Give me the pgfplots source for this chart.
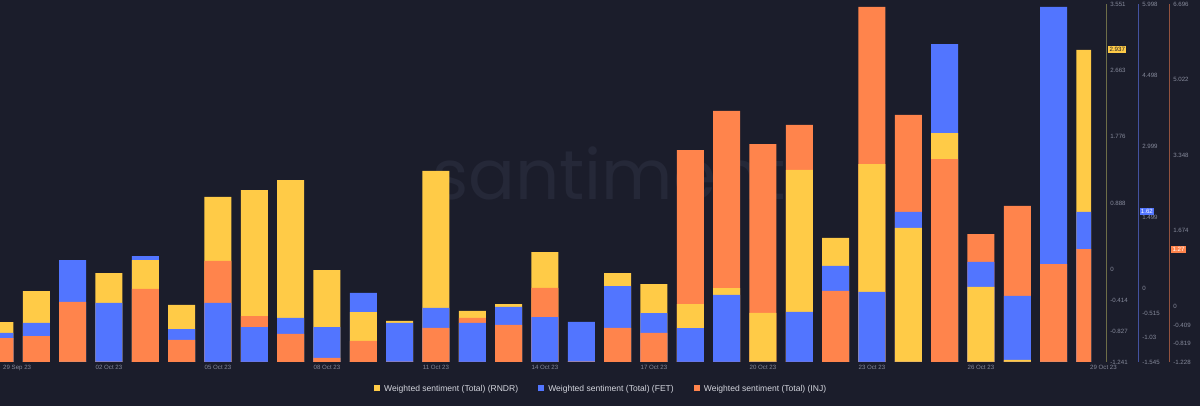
\documentclass[border=0pt]{standalone}
\usepackage{pgfplots}
\pgfplotsset{compat=1.18}
\usepackage{pgfplotstable}
\usepackage{fontspec}
\setmainfont{Liberation Sans}
\newfontfamily\wmfont{Poppins}

\definecolor{bg}{HTML}{1B1D2B}
\definecolor{cR}{HTML}{FFCB47}
\definecolor{cF}{HTML}{5275FF}
\definecolor{cI}{HTML}{FF844C}
\definecolor{ticktxt}{HTML}{868A9B}
\definecolor{legtxt}{HTML}{D4D6DE}
\definecolor{lineR}{HTML}{6E6E48}
\definecolor{lineF}{HTML}{4352A0}
\definecolor{lineI}{HTML}{93533F}
\definecolor{wm}{HTML}{252838}

% weighted sentiment per day, 0 = 29 Sep 23 ... 30 = 29 Oct 23
\pgfplotstableread{
d R F I
0 -0.706 -0.934 -0.697
1 -0.291 -0.723 -0.653
2 -1.241 0.604 0.100
3 -0.050 -0.302 -1.228
4 0.124 0.688 0.388
5 -0.478 -0.850 -0.741
6 0.968 -0.302 1.008
7 1.061 -0.808 -0.210
8 1.195 -0.618 -0.608
9 -0.010 -0.808 -1.139
10 -0.572 -0.091 -0.763
11 -0.692 -0.723 -1.228
12 1.316 -0.407 -0.475
13 -0.558 -0.723 -0.254
14 -0.465 -0.386 -0.409
15 0.231 -0.597 0.410
16 -1.241 -0.702 -1.228
17 -0.050 0.056 -0.475
18 -0.197 -0.513 -0.586
19 -0.465 -0.829 3.464
20 -0.251 -0.133 4.328
21 -0.585 -1.545 3.597
22 1.329 -0.491 4.018
23 0.419 0.478 0.344
24 1.409 -0.070 6.630
25 0.553 1.616 4.239
26 1.824 5.155 3.265
27 -0.237 0.562 1.605
28 -1.214 -0.154 2.225
29 -1.241 5.935 0.941
30 2.937 1.620 1.270
}\sentiment

% each series on its own scale, as a share of the plot height
\pgfplotstablecreatecol[expr={(\thisrow{R}+1.241)/4.792}]{hR}\sentiment
\pgfplotstablecreatecol[expr={(\thisrow{F}+1.545)/7.543}]{hF}\sentiment
\pgfplotstablecreatecol[expr={(\thisrow{I}+1.228)/7.924}]{hI}\sentiment

\def\mx{max(max(\thisrow{hR},\thisrow{hF}),\thisrow{hI})}
\def\mn{min(min(\thisrow{hR},\thisrow{hF}),\thisrow{hI})}

\newcommand{\legsq}[1]{\textcolor{#1}{\rule[0.2pt]{4.6pt}{4.6pt}}\hspace{3pt}}

\pgfplotsset{
  sbar/.style={ybar, bar width=0.743, /pgf/bar shift=0pt, draw=none, fill=#1, forget plot},
  raxis/.style={
    scale only axis, height=268.5pt, at={(0pt,33pt)}, anchor=south west,
    xmin=0, xmax=1, ymin=#1,
    axis x line=none, axis y line*=right,
    major tick length=0pt, clip=false,
    yticklabel style={anchor=west, inner sep=0pt, xshift=3pt,
      font=\fontsize{4.6}{5}\selectfont, text=ticktxt},
  },
}

\begin{document}
\begin{tikzpicture}
\useasboundingbox (0,0) rectangle (900pt,304.5pt);
\fill[bg] (0,0) rectangle (900pt,304.5pt);
\node[anchor=base west, text=wm, font=\wmfont\fontsize{52}{52}\selectfont, inner sep=0pt]
  at (324pt,155pt) {santiment};

\begin{axis}[
  scale only axis, width=818.25pt, height=268.5pt,
  at={(0pt,33pt)}, anchor=south west,
  xmin=0, xmax=30.03, ymin=0, ymax=1,
  axis line style={draw=none}, major tick length=0pt,
  ytick=\empty,
  xtick={3,6,...,27},
  xticklabels={02 Oct 23,05 Oct 23,08 Oct 23,11 Oct 23,14 Oct 23,17 Oct 23,20 Oct 23,23 Oct 23,26 Oct 23},
  xticklabel style={font=\fontsize{4.6}{5}\selectfont, text=ticktxt, inner sep=0pt, yshift=-2pt},
  clip mode=individual,
]
% tallest bar of each day at the back
\addplot[sbar=cR] table[x=d, y expr={ifthenelse(\thisrow{hR}==\mx,\thisrow{hR},0)}]{\sentiment};
\addplot[sbar=cF] table[x=d, y expr={ifthenelse(\thisrow{hF}==\mx,\thisrow{hF},0)}]{\sentiment};
\addplot[sbar=cI] table[x=d, y expr={ifthenelse(\thisrow{hI}==\mx,\thisrow{hI},0)}]{\sentiment};
% middle
\addplot[sbar=cR] table[x=d, y expr={ifthenelse(\thisrow{hR}<\mx && \thisrow{hR}>\mn,\thisrow{hR},0)}]{\sentiment};
\addplot[sbar=cF] table[x=d, y expr={ifthenelse(\thisrow{hF}<\mx && \thisrow{hF}>\mn,\thisrow{hF},0)}]{\sentiment};
\addplot[sbar=cI] table[x=d, y expr={ifthenelse(\thisrow{hI}<\mx && \thisrow{hI}>\mn,\thisrow{hI},0)}]{\sentiment};
% shortest in front
\addplot[sbar=cR] table[x=d, y expr={ifthenelse(\thisrow{hR}==\mn,\thisrow{hR},0)}]{\sentiment};
\addplot[sbar=cF] table[x=d, y expr={ifthenelse(\thisrow{hF}==\mn,\thisrow{hF},0)}]{\sentiment};
\addplot[sbar=cI] table[x=d, y expr={ifthenelse(\thisrow{hI}==\mn,\thisrow{hI},0)}]{\sentiment};

\node[anchor=north west, font=\fontsize{4.6}{5}\selectfont, text=ticktxt, inner sep=0pt]
  at ([yshift=-2pt]axis cs:0.08,0) {29 Sep 23};
\node[anchor=north west, font=\fontsize{4.6}{5}\selectfont, text=ticktxt, inner sep=0pt]
  at ([yshift=-2pt]axis cs:30,0) {29 Oct 23};

% legend
\node[anchor=center, inner sep=0pt, text=legtxt, font=\fontsize{6.4}{7}\selectfont]
  at (rel axis cs:0.55,-0.076)
  {\legsq{cR}Weighted sentiment (Total) (RNDR)\hspace{15pt}%
   \legsq{cF}Weighted sentiment (Total) (FET)\hspace{15pt}%
   \legsq{cI}Weighted sentiment (Total) (INJ)};
\end{axis}

% RNDR scale
\begin{axis}[raxis=-1.241, width=829.5pt, ymax=3.551,
  y axis line style={lineR},
  ytick={-1.241,-0.827,-0.414,0,0.888,1.776,2.663,3.551},
  yticklabels={-1.241,-0.827,-0.414,0,0.888,1.776,2.663,3.551}]
\node[anchor=west, fill=cR, text=bg, inner sep=1pt, xshift=1.5pt,
  font=\fontsize{4.6}{5}\selectfont] at (axis cs:1,2.937) {2.937};
\end{axis}

% FET scale
\begin{axis}[raxis=-1.545, width=853.5pt, ymax=5.998,
  y axis line style={lineF},
  ytick={-1.545,-1.03,-0.515,0,1.499,2.999,4.498,5.998},
  yticklabels={-1.545,-1.03,-0.515,0,1.499,2.999,4.498,5.998}]
\node[anchor=west, fill=cF, text=white, inner sep=1pt, xshift=1pt,
  font=\fontsize{4.6}{5}\selectfont] at (axis cs:1,1.62) {1.62};
\end{axis}

% INJ scale
\begin{axis}[raxis=-1.228, width=876.75pt, ymax=6.696,
  y axis line style={lineI},
  ytick={-1.228,-0.819,-0.409,0,1.674,3.348,5.022,6.696},
  yticklabels={-1.228,-0.819,-0.409,0,1.674,3.348,5.022,6.696}]
\node[anchor=west, fill=cI, text=white, inner sep=1pt, xshift=1.5pt,
  font=\fontsize{4.6}{5}\selectfont] at (axis cs:1,1.27) {1.27};
\end{axis}
\end{tikzpicture}
\end{document}
